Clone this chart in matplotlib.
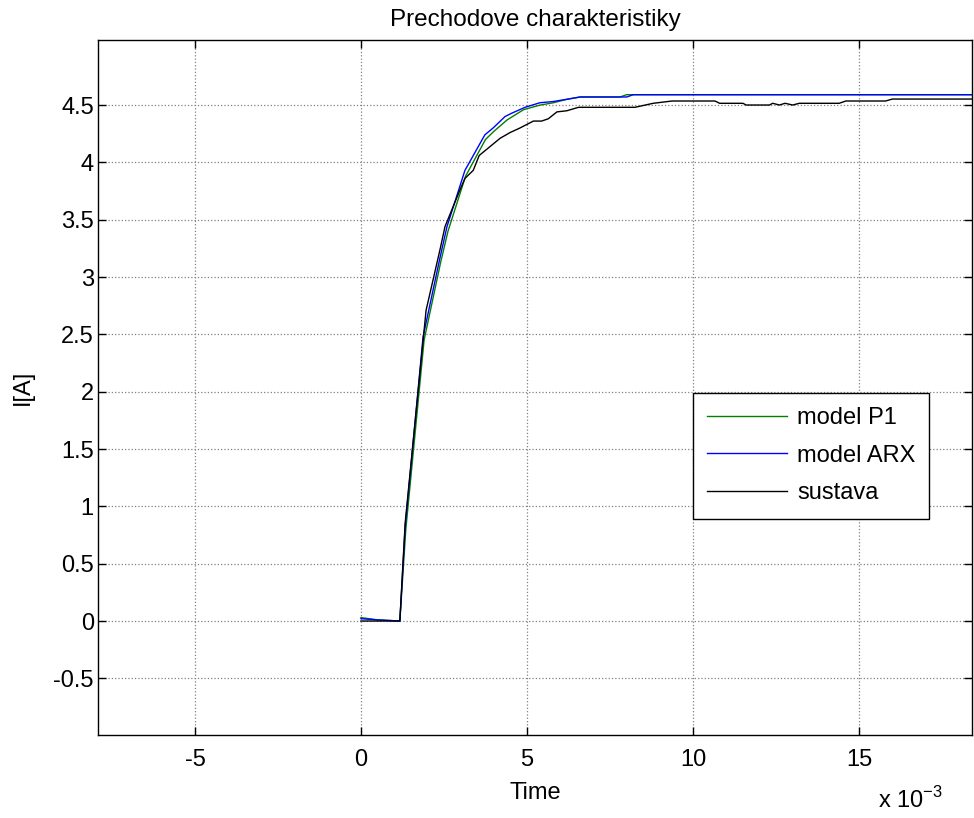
import numpy as np
import matplotlib
matplotlib.use("Agg")
import matplotlib.pyplot as plt

plt.rcParams['font.family'] = ['Liberation Sans', 'DejaVu Sans']
plt.rcParams['axes.unicode_minus'] = False

# cas v ms (os x je skalovana x 10^-3)
t_p1 = [0, 0.5, 1.17, 1.35, 1.9, 2.4, 2.62, 3.15, 3.75, 4.0, 4.4, 4.9, 5.4, 5.8, 6.2, 6.6, 7.8, 8.0, 18.5]
i_p1 = [0.03, 0.01, 0.0, 0.80, 2.45, 3.13, 3.40, 3.88, 4.20, 4.27, 4.37, 4.46, 4.50, 4.52, 4.55, 4.57, 4.57, 4.59, 4.59]

t_arx = [0, 0.5, 1.17, 1.33, 1.87, 2.38, 2.59, 3.13, 3.73, 3.98, 4.34, 4.55, 4.94, 5.39, 5.78, 6.2, 6.6, 8.0, 8.2, 18.5]
i_arx = [0.02, 0.01, 0.0, 0.82, 2.48, 3.17, 3.44, 3.93, 4.24, 4.30, 4.40, 4.43, 4.48, 4.52, 4.53, 4.55, 4.57, 4.57, 4.59, 4.59]

t_sys = [0, 1.17, 1.33, 1.96, 2.38, 2.53, 2.98, 3.13, 3.38, 3.56, 4.19, 4.49, 4.79, 5.19, 5.44, 5.64, 5.9, 6.2, 6.55,
         8.25, 8.8, 9.37, 10.66, 10.8, 11.5, 11.6, 12.3, 12.4, 12.6, 12.77, 13.0, 13.2, 14.4, 14.6, 15.8, 16.0, 18.5]
i_sys = [0.0, 0.0, 0.855, 2.71, 3.24, 3.44, 3.76, 3.86, 3.93, 4.06, 4.21, 4.26, 4.30, 4.36, 4.36, 4.38, 4.44, 4.45, 4.48,
         4.48, 4.515, 4.535, 4.535, 4.515, 4.515, 4.50, 4.50, 4.515, 4.50, 4.515, 4.50, 4.515, 4.515, 4.535, 4.535, 4.552, 4.552]

FS = 17

fig = plt.figure(figsize=(9.74, 8.18), dpi=100)
ax = fig.add_axes([98 / 974, 83 / 818, 874 / 974, 695 / 818])

ax.plot(t_p1, i_p1, color='#008000', lw=1.0, label='model P1')
ax.plot(t_arx, i_arx, color='#0000ff', lw=1.0, label='model ARX')
ax.plot(t_sys, i_sys, color='black', lw=1.0, label='sustava')

ax.set_xlim(-7.92, 18.4)
ax.set_ylim(-0.994, 5.067)
ax.set_xticks([-5, 0, 5, 10, 15])
ax.set_xticklabels(['-5', '0', '5', '10', '15'])
ax.set_yticks([-0.5, 0, 0.5, 1, 1.5, 2, 2.5, 3, 3.5, 4, 4.5])
ax.set_yticklabels(['-0.5', '0', '0.5', '1', '1.5', '2', '2.5', '3', '3.5', '4', '4.5'])

ax.tick_params(direction='in', length=6, width=1, top=True, right=True, labelsize=FS)
ax.tick_params(axis='x', pad=10)
ax.tick_params(axis='y', pad=3)
ax.grid(True, color='#808080', linestyle=':', lw=0.9)
for s in ax.spines.values():
    s.set_linewidth(1.0)

ax.set_title('Prechodove charakteristiky', fontsize=17.5, pad=10)
ax.set_xlabel('Time', fontsize=FS, labelpad=8)
ax.set_ylabel('I[A]', fontsize=FS, labelpad=14)
fig.text(878 / 974, 1 - 808 / 818, r'x 10$^{\mathregular{-3}}$', fontsize=FS, va='baseline')

leg = ax.legend(loc='upper left', bbox_to_anchor=((693 - 98) / 874, (735 - 393) / 695), borderaxespad=0,
                fancybox=False, framealpha=1, edgecolor='black', fontsize=FS, handlelength=3.4,
                labelspacing=0.66, borderpad=0.6, handletextpad=0.4)
leg.get_frame().set_linewidth(1.0)

fig.savefig('out.png', dpi=100)
